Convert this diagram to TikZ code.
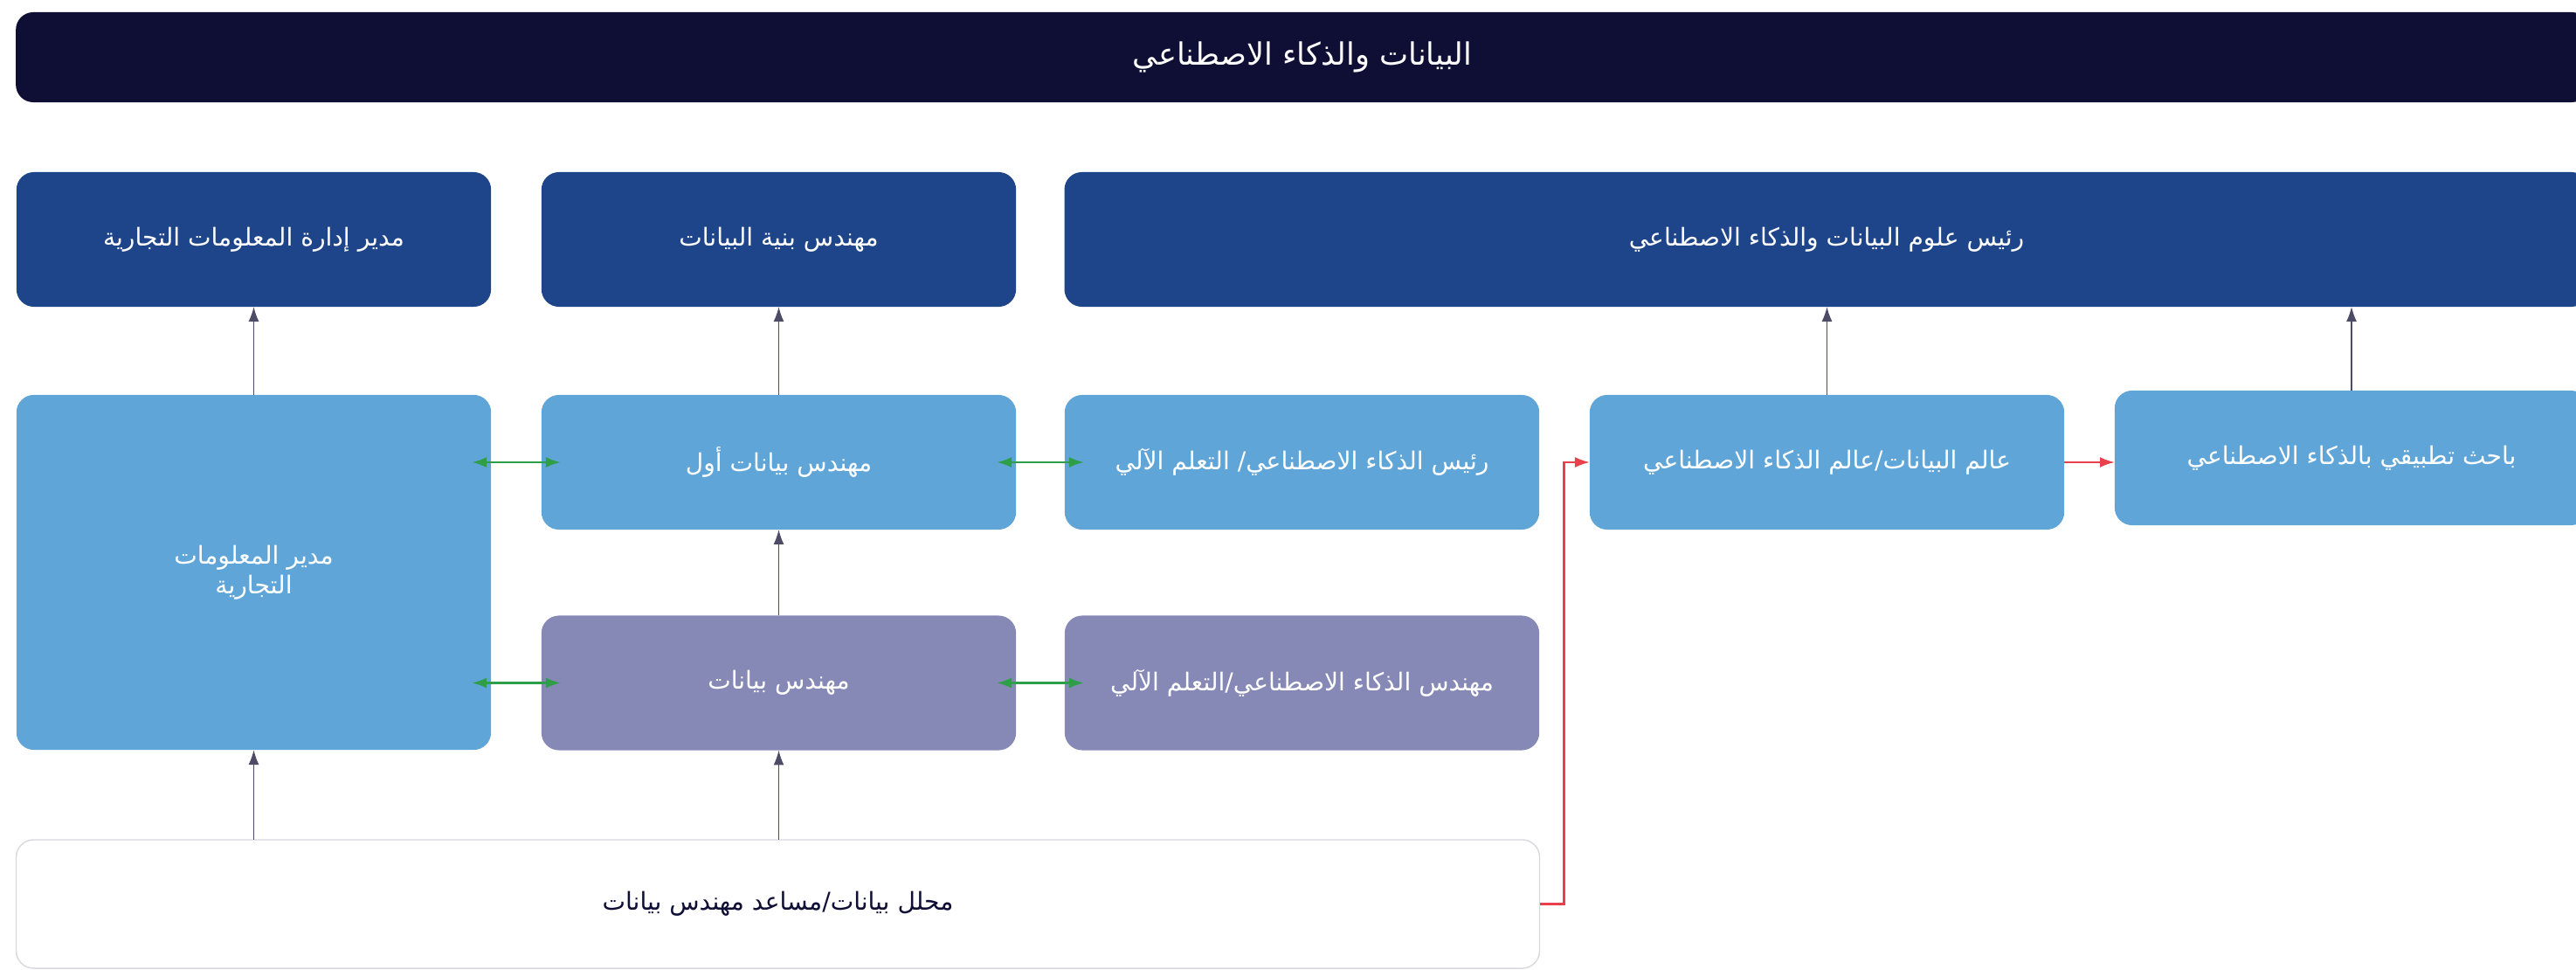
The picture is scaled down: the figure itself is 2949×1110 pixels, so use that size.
\documentclass[tikz,border=0pt]{standalone}
\usepackage{fontspec}
\newfontfamily\arabicfont[Script=Arabic]{DejaVu Sans}
\TeXXeTstate=1
\usetikzlibrary{arrows.meta}
\definecolor{navy}{HTML}{0F0F35}
\definecolor{headblue}{HTML}{1E4589}
\definecolor{roleblue}{HTML}{5FA5D8}
\definecolor{rolegray}{HTML}{8689B5}
\definecolor{edgegray}{HTML}{D8D8DF}
\definecolor{upgray}{HTML}{4E4B66}
\definecolor{peergreen}{HTML}{2E9E48}
\definecolor{pathred}{HTML}{E8414B}
\newcommand{\artxt}[1]{\beginR #1\endR}
\begin{document}
\begin{tikzpicture}[x=0.01cm,y=-0.01cm,
  box/.style={rounded corners=0.2cm,minimum width=5.43cm,minimum height=1.54cm,inner sep=0pt,outer sep=0pt,align=center,text=white,font=\arabicfont\fontsize{8}{9.8}\selectfont},
  head/.style={box,fill=headblue},
  role/.style={box,fill=roleblue},
  junior/.style={box,fill=rolegray},
  promo/.style={draw=upgray,line width=0.45pt,-{Latex[length=4.8pt,width=3.4pt]}},
  peer/.style={draw=peergreen,line width=0.7pt,{Latex[length=4.8pt,width=3.4pt]}-{Latex[length=4.8pt,width=3.4pt]},shorten <=-0.22cm,shorten >=-0.22cm},
  move/.style={draw=pathred,line width=0.6pt,-{Latex[length=4.8pt,width=3.4pt]}}]
 \useasboundingbox (0,0) rectangle (2949,1110);
 \clip (0,0) rectangle (2949,1110);
 \node[box,fill=navy,minimum width=29.44cm,minimum height=1.03cm,font=\arabicfont\fontsize{10}{12}\selectfont] (title) at (1491,65.5) {\artxt{البيانات والذكاء الاصطناعي}};
 \node[head] (bimgr) at (290.5,274) {\artxt{مدير إدارة المعلومات التجارية}};
 \node[head] (archeng) at (891.5,274) {\artxt{مهندس بنية البيانات}};
 \node[head,minimum width=17.44cm] (headds) at (2091,274) {\artxt{رئيس علوم البيانات والذكاء الاصطناعي}};
 \node[role,minimum height=4.06cm] (bilead) at (290.5,655) {\artxt{مدير المعلومات}\\\artxt{التجارية}};
 \node[role] (srdata) at (891.5,529) {\artxt{مهندس بيانات أول}};
 \node[role] (headml) at (1490.5,529) {\artxt{رئيس الذكاء الاصطناعي/ التعلم الآلي}};
 \node[role] (scient) at (2091.5,529) {\artxt{عالم البيانات/عالم الذكاء الاصطناعي}};
 \node[role,minimum width=5.42cm] (applied) at (2692,524) {\artxt{باحث تطبيقي بالذكاء الاصطناعي}};
 \node[junior] (dataeng) at (891.5,781.5) {\artxt{مهندس بيانات}};
 \node[junior] (mleng) at (1490.5,781.5) {\artxt{مهندس الذكاء الاصطناعي/التعلم الآلي}};
 \node[box,fill=white,draw=edgegray,line width=0.4pt,text=navy,minimum width=17.43cm,minimum height=1.47cm] (analyst) at (890.5,1034.5) {\artxt{محلل بيانات/مساعد مهندس بيانات}};
 \draw[promo] (bilead.north) -- (bimgr.south);
 \draw[promo] (srdata.north) -- (archeng.south);
 \draw[promo] (scient.north) -- (scient.north |- headds.south);
 \draw[promo] (applied.north) -- (applied.north |- headds.south);
 \draw[promo] (dataeng.north) -- (srdata.south);
 \draw[promo] (bilead.south |- analyst.north) -- (bilead.south);
 \draw[promo] (dataeng.south |- analyst.north) -- (dataeng.south);
 \draw[peer] (bilead.east |- srdata.west) -- (srdata.west);
 \draw[peer] (srdata.east) -- (headml.west);
 \draw[peer] (bilead.east |- dataeng.west) -- (dataeng.west);
 \draw[peer] (dataeng.east) -- (mleng.west);
 \draw[move] (analyst.east) -- ++(28,0) |- (scient.west);
 \draw[move] (scient.east) -- (scient.east -| applied.west);
\end{tikzpicture}
\end{document}
